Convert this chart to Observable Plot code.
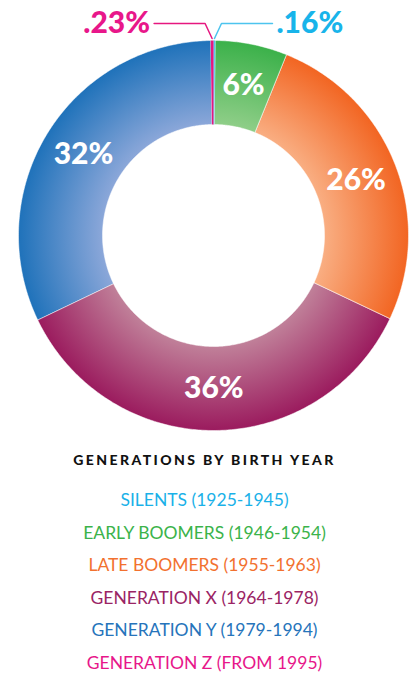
<!DOCTYPE html>
<html>
<head>
<meta charset="utf-8">
<script src="https://cdn.jsdelivr.net/npm/d3@7"></script>
<script src="https://cdn.jsdelivr.net/npm/@observablehq/plot@0.6"></script>
<style>
  html, body { margin: 0; padding: 0; background: #fff; }
  #wrap { width: 409px; }
  #title { font-family: Lato, "Open Sans", sans-serif; font-weight: 900; font-size: 14px; letter-spacing: 2.4px; text-align: center; color: #111; margin-top: 7px; line-height: 16px; }
  #legend { margin-top: 16px; text-align: center; font-family: Lato, "Open Sans", sans-serif; font-size: 17.5px; }
  #legend div { line-height: 32.6px; height: 32.6px; }
</style>
</head>
<body>
<div id="wrap">
  <div id="chart"></div>
  <div id="title">GENERATIONS BY BIRTH YEAR</div>
  <div id="legend"></div>
</div>
<script>
// ---- data ----
const generations = ["Silents", "Early Boomers", "Late Boomers", "Generation X", "Generation Y", "Generation Z"];
const shares = [0.16, 6, 26, 36, 32, 0.23];
const shareLabels = [".16%", "6%", "26%", "36%", "32%", ".23%"];
const legendLabels = ["SILENTS (1925-1945)", "EARLY BOOMERS (1946-1954)", "LATE BOOMERS (1955-1963)", "GENERATION X (1964-1978)", "GENERATION Y (1979-1994)", "GENERATION Z (FROM 1995)"];

// ---- styles ----
const darkColors = ["#1fb3e8", "#3bb14a", "#f26522", "#9b1b5e", "#1f72ba", "#e6177f"];
const lightColors = ["#4cc4ee", "#8fce88", "#f9ae82", "#c08099", "#8ba7d9", "#e6177f"];
const legendColors = ["#1ab1e8", "#3bb34a", "#f2712f", "#9a2464", "#2674bb", "#e7178a"];

const W = 409, H = 445, CX = 213, CY = 235, R = 195, RIN = 111;
const inner = RIN / R;

const data = generations.map((g, i) => ({key: i, name: g, value: shares[i], label: shareLabels[i]}));
const arcs = d3.pie().sort(null).value(d => d.value).startAngle(0).endAngle(2 * Math.PI)(data);

// slice polygons in unit coordinates (outer radius = 1)
function slicePoints(a) {
  const n = Math.max(2, Math.ceil((a.endAngle - a.startAngle) / 0.01));
  const pts = [];
  for (let k = 0; k <= n; k++) {
    const t = a.startAngle + (a.endAngle - a.startAngle) * k / n;
    pts.push({x: Math.sin(t), y: Math.cos(t)});
  }
  for (let k = n; k >= 0; k--) {
    const t = a.startAngle + (a.endAngle - a.startAngle) * k / n;
    pts.push({x: inner * Math.sin(t), y: inner * Math.cos(t)});
  }
  return pts;
}

const rMid = (1 + inner) / 2;
const big = arcs.filter(a => a.data.value >= 1).map(a => {
  const m = (a.startAngle + a.endAngle) / 2;
  return {x: rMid * Math.sin(m), y: rMid * Math.cos(m), label: a.data.label};
});

// callouts for the tiny slices
const elbowY = (CY - 23) / R;
const callouts = arcs.filter(a => a.data.value < 1).map(a => {
  const m = (a.startAngle + a.endAngle) / 2;
  const side = Math.sin(m) < 0 ? -1 : 1;
  const x0 = Math.sin(m), y0 = Math.cos(m);
  const ex = x0 + side * 7 / R;
  const endX = ex + side * 51 / R;
  return {
    side, color: a.data.key === 0 ? "#4cc4ee" : "#e6177f",
    textColor: a.data.key === 0 ? "#18b4ea" : "#e8178a",
    label: a.data.label,
    line: [{x: x0, y: y0 + 0.01}, {x: ex, y: elbowY}, {x: endX, y: elbowY}],
    tx: endX + side * 4 / R, ty: elbowY
  };
});

const marks = [];
arcs.forEach(a => {
  const thin = a.data.value < 1;
  marks.push(Plot.line(slicePoints(a), {
    x: "x", y: "y",
    fill: thin ? darkColors[a.data.key] : `url(#grad${a.data.key})`,
    stroke: thin ? "none" : "#ffffff",
    strokeWidth: 0.5,
    curve: "linear-closed"
  }));
});
callouts.forEach(c => {
  marks.push(Plot.line(c.line, {x: "x", y: "y", stroke: c.color, strokeWidth: 1.5}));
  marks.push(Plot.text([c], {
    x: "tx", y: "ty", text: "label", fill: c.textColor,
    textAnchor: c.side < 0 ? "end" : "start",
    fontSize: 30, fontWeight: 900, fontFamily: "Lato, sans-serif"
  }));
});
marks.push(Plot.text(big, {
  x: "x", y: "y", text: "label", fill: "white",
  fontSize: 30, fontWeight: 900, fontFamily: "Lato, sans-serif"
}));

const plot = Plot.plot({
  width: W, height: H, margin: 0,
  x: {domain: [-CX / R, (W - CX) / R], range: [0, W], axis: null},
  y: {domain: [-(H - CY) / R, CY / R], range: [H, 0], axis: null},
  style: {background: "white", overflow: "visible"},
  marks
});

// radial gradients centred on the donut
const px = plot.scale("x").apply(0), py = plot.scale("y").apply(0);
const pr = plot.scale("x").apply(1) - px;
const ns = "http://www.w3.org/2000/svg";
const defs = document.createElementNS(ns, "defs");
darkColors.forEach((c, i) => {
  const g = document.createElementNS(ns, "radialGradient");
  g.setAttribute("id", `grad${i}`);
  g.setAttribute("gradientUnits", "userSpaceOnUse");
  g.setAttribute("cx", px); g.setAttribute("cy", py); g.setAttribute("r", pr);
  [[0, lightColors[i]], [inner, lightColors[i]], [1, c]].forEach(([o, col]) => {
    const s = document.createElementNS(ns, "stop");
    s.setAttribute("offset", o);
    s.setAttribute("stop-color", col);
    g.appendChild(s);
  });
  defs.appendChild(g);
});
plot.insertBefore(defs, plot.firstChild);
document.getElementById("chart").appendChild(plot);

const legend = document.getElementById("legend");
legendLabels.forEach((t, i) => {
  const d = document.createElement("div");
  d.textContent = t;
  d.style.color = legendColors[i];
  legend.appendChild(d);
});
</script>
</body>
</html>
